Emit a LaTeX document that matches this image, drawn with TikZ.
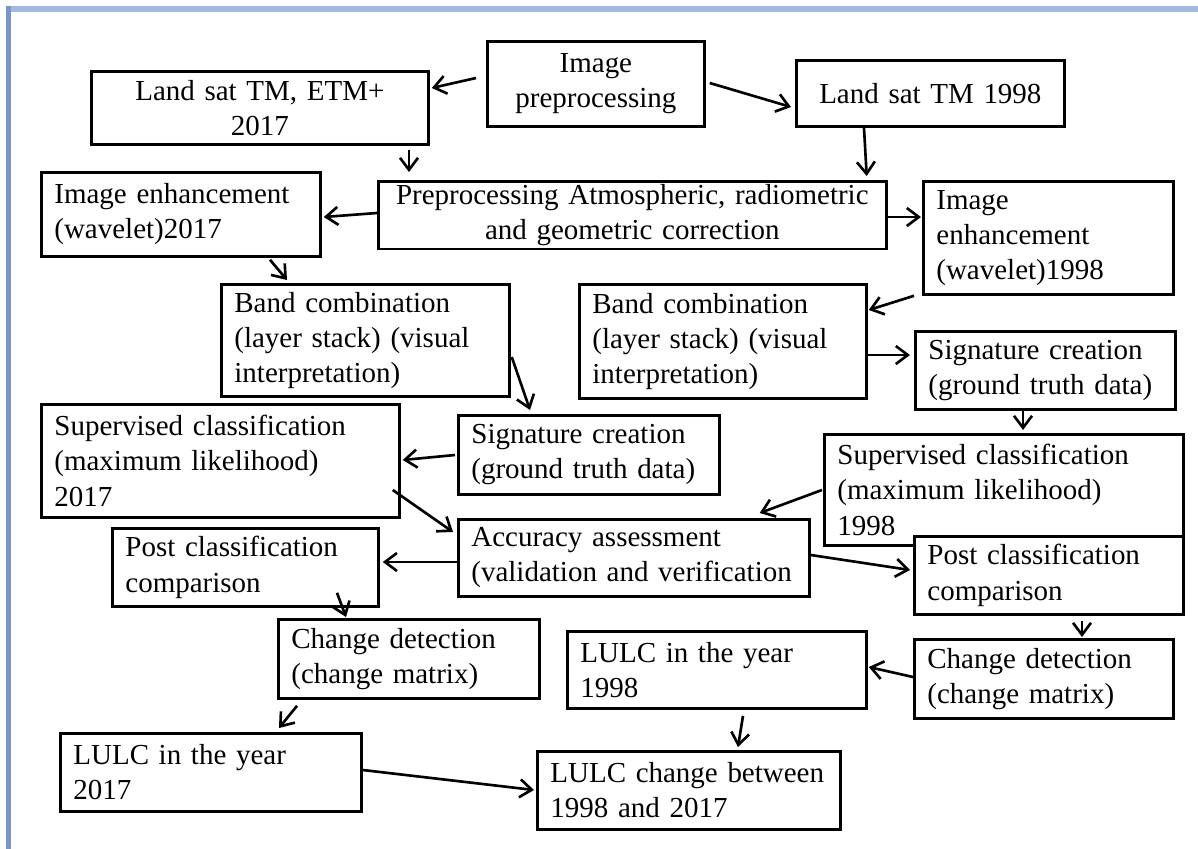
\documentclass[tikz,border=0pt]{standalone}
\usepackage{fontspec}
\setmainfont{Liberation Serif}
\usepackage{tikz}
\usetikzlibrary{positioning,calc,arrows.meta}
\usepackage{xcolor}
\definecolor{frametop}{HTML}{A4B9DE}
\definecolor{frameleft}{HTML}{7A96C8}
\tikzset{
  pointer/.style={-{Straight Barb[length=2.4mm,width=3.6mm]}, draw, black, line width=1.5pt},
}

\begin{document}
\begin{tikzpicture}[x=0.02cm,y=-0.02cm,
            stage/.style={rectangle,draw=black,fill=white,line width=1.6pt,anchor=north west,
                inner xsep=0.26cm,inner ysep=0.06cm,align=left,
                font=\fontsize{16.5}{20}\selectfont},
            midstage/.style={stage,align=center}]
            \fill[white] (0,0) rectangle (1198,849);
            \useasboundingbox (0,0) rectangle (1198,849);
            \fill[frametop] (6,6) rectangle (1198,12);
            \fill[frameleft] (6,6) rectangle (11,849);

            \node[midstage, text width=6.22cm, minimum height=1.46cm] (ls17) at (90,70) {Land sat TM, ETM+\\2017};
            \node[midstage, text width=3.82cm, minimum height=1.70cm] (prep) at (486,40) {Image\\preprocessing};
            \node[midstage, text width=4.84cm, minimum height=1.32cm] (ls98) at (795,59) {Land sat TM 1998};
            \node[midstage, text width=9.64cm, minimum height=1.30cm] (corr) at (377,180) {Preprocessing Atmospheric, radiometric\\and geometric correction};
            \node[stage, text width=5.06cm, minimum height=1.68cm] (ie17) at (40,171) {Image enhancement\\(wavelet)2017};
            \node[stage, text width=4.48cm, minimum height=2.26cm] (ie98) at (922,180) {Image\\enhancement\\(wavelet)1998};
            \node[stage, text width=5.24cm, minimum height=2.24cm] (band17) at (220,283) {Band combination\\(layer stack) (visual\\interpretation)};
            \node[stage, text width=5.22cm, minimum height=2.28cm] (band98) at (578,283) {Band combination\\(layer stack) (visual\\interpretation)};
            \node[stage, text width=4.68cm, minimum height=1.56cm] (sig98) at (914,330) {Signature creation\\(ground truth data)};
            \node[stage, text width=4.70cm, minimum height=1.58cm] (sig17) at (457,414) {Signature creation\\(ground truth data)};
            \node[stage, text width=6.64cm, minimum height=2.26cm] (sup17) at (40,403) {Supervised classification\\(maximum likelihood)\\2017};
            \node[stage, text width=6.66cm, minimum height=2.22cm] (sup98) at (823,433) {Supervised classification\\(maximum likelihood)\\1998};
            \node[stage, text width=6.50cm, minimum height=1.54cm] (acc) at (457,518) {Accuracy assessment\\(validation and verification};
            \node[stage, text width=4.80cm, minimum height=1.56cm] (post17) at (111,527) {Post classification\\comparison};
            \node[stage, text width=4.86cm, minimum height=1.56cm] (post98) at (913,535) {Post classification\\comparison};
            \node[stage, text width=4.70cm, minimum height=1.58cm] (chg17) at (277,618) {Change detection\\(change matrix)};
            \node[stage, text width=5.46cm, minimum height=1.54cm] (lulc98) at (566,630) {LULC in the year\\1998};
            \node[stage, text width=4.66cm, minimum height=1.58cm] (chg98) at (913,638) {Change detection\\(change matrix)};
            \node[stage, text width=5.50cm, minimum height=1.56cm] (lulc17) at (59,732) {LULC in the year\\2017};
            \node[stage, text width=5.54cm, minimum height=1.56cm] (lulcchg) at (536,750) {LULC change between\\1998 and 2017};

            \draw [pointer] ($(prep.north west)+(-10,38)$) to ($(ls17.north east)+(2,18)$);
            \draw [pointer] ($(prep.north east)+(4,43)$) to ($(ls98.north west)+(-4,48)$);
            \draw [pointer] ($(ls17.south west)+(319,4)$) to ($(corr.north west)+(32,-8)$);
            \draw [pointer] ($(ls98.south west)+(69,0)$) to ($(corr.north east)+(-21,-4)$);
            \draw [pointer] ($(corr.north west)+(0,33)$) to ($(ie17.north east)+(2,46)$);
            \draw [pointer] ($(corr.north east)+(0,37)$) to ($(ie98.north west)+(-1,37)$);
            \draw [pointer] ($(ie17.south west)+(230,2)$) to ($(band17.north west)+(67,-3)$);
            \draw [pointer] ($(ie98.south west)+(-8,0)$) to ($(band98.north east)+(1,27)$);
            \draw [pointer] ($(band17.north east)+(1,74)$) to ($(sig17.north west)+(73,-4)$);
            \draw [pointer] ($(band98.north east)+(0,72)$) to ($(sig98.north west)+(-4,25)$);
            \draw [pointer] ($(sig17.north west)+(-2,41)$) to ($(sup17.north east)+(2,57)$);
            \draw [pointer] ($(sig98.south west)+(109,0)$) to ($(sup98.north west)+(200,-3)$);
            \draw [pointer] ($(sup17.north east)+(-8,87)$) to ($(acc.north west)+(-4,14)$);
            \draw [pointer] ($(sup98.north west)+(-1,57)$) to ($(acc.north east)+(-51,-5)$);
            \draw [pointer] ($(acc.north west)+(0,44)$) to ($(post17.north east)+(3,35)$);
            \draw [pointer] ($(acc.north east)+(0,37)$) to ($(post98.north west)+(-3,35)$);
            \draw [pointer] ($(post17.south west)+(226,-15)$) to ($(chg17.north west)+(69,-1)$);
            \draw [pointer] ($(post98.south west)+(169,5)$) to ($(chg98.north west)+(169,-1)$);
            \draw [pointer] ($(chg98.north west)+(0,39)$) to ($(lulc98.north east)+(1,37)$);
            \draw [pointer] ($(chg17.south west)+(20,6)$) to ($(lulc17.north west)+(220,-4)$);
            \draw [pointer] ($(lulc98.south west)+(177,6)$) to ($(lulcchg.north west)+(202,-3)$);
            \draw [pointer] ($(lulc17.north east)+(0,38)$) to ($(lulcchg.north west)+(-2,40)$);

\end{tikzpicture}
\end{document}
